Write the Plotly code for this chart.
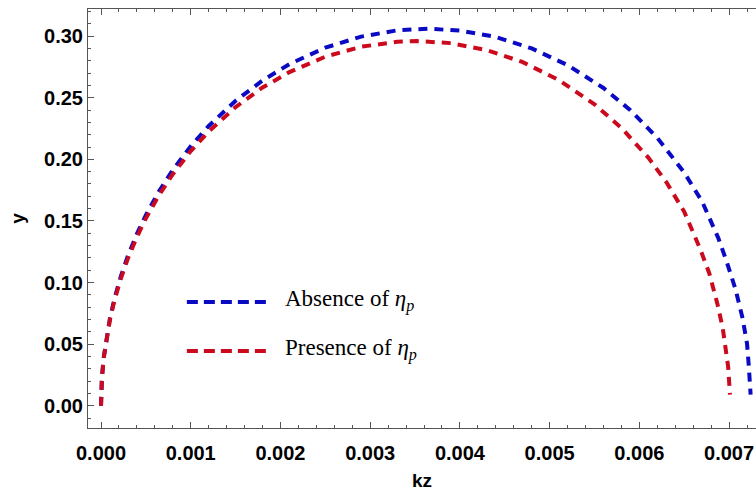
import plotly.graph_objects as go

# Data
kz_absence = [0, 0.00001, 0.00003, 0.00006, 0.0001, 0.00015, 0.00022, 0.0003, 0.0004, 0.0005,
              0.00065, 0.0008, 0.001, 0.0012, 0.0015, 0.0018, 0.0021, 0.0025, 0.0029, 0.0033,
              0.00364, 0.0040, 0.0044, 0.0048, 0.0052, 0.0056, 0.0059, 0.0062, 0.0065, 0.0067,
              0.00688, 0.00697, 0.00707, 0.00715, 0.0072, 0.00722, 0.00724]
y_absence = [0, 0.0227, 0.0392, 0.0553, 0.0712, 0.0869, 0.1048, 0.1217, 0.1395, 0.1548,
             0.1745, 0.1914, 0.2107, 0.2271, 0.2475, 0.2640, 0.2773, 0.2906, 0.2996, 0.3047,
             0.3060, 0.3045, 0.2993, 0.2900, 0.2765, 0.2579, 0.2399, 0.2175, 0.1893, 0.1657,
             0.1361, 0.1177, 0.0950, 0.0712, 0.0505, 0.0320, 0.009]

kz_presence = [0, 0.00001, 0.00003, 0.00006, 0.0001, 0.00015, 0.00022, 0.0003, 0.0004, 0.0005,
               0.00065, 0.0008, 0.001, 0.0012, 0.0015, 0.0018, 0.0021, 0.0025, 0.0029, 0.0033,
               0.00352, 0.0039, 0.0043, 0.0047, 0.0051, 0.0055, 0.0058, 0.0061, 0.0063, 0.0065,
               0.00668, 0.00678, 0.00687, 0.00693, 0.00697, 0.00699, 0.00701]
y_presence = [0, 0.0223, 0.0386, 0.0544, 0.0701, 0.0855, 0.1030, 0.1196, 0.1370, 0.1521,
              0.1714, 0.1879, 0.2067, 0.2226, 0.2424, 0.2583, 0.2708, 0.2833, 0.2914, 0.2954,
              0.2960, 0.2943, 0.2886, 0.2789, 0.2645, 0.2447, 0.2255, 0.2014, 0.1816, 0.1575,
              0.1269, 0.1074, 0.0827, 0.0628, 0.0445, 0.0315, 0.009]

series_names = ["Absence of <i>η</i><sub><i>p</i></sub>", "Presence of <i>η</i><sub><i>p</i></sub>"]
series_colors = ["#0a0ac4", "#cc0a1e"]

AXIS_COLOR = "#555555"
tick_font = dict(family="Liberation Sans, Arial, sans-serif", size=20, color="black", weight="bold")
title_font = dict(family="Liberation Sans, Arial, sans-serif", size=19, color="black", weight="bold")

fig = go.Figure()
fig.add_trace(go.Scatter(x=kz_absence, y=y_absence, mode="lines", name=series_names[0],
                         line=dict(color=series_colors[0], width=4, dash="9px,7px"),
                         showlegend=False))
fig.add_trace(go.Scatter(x=kz_presence, y=y_presence, mode="lines", name=series_names[1],
                         line=dict(color=series_colors[1], width=4, dash="9px,7px"),
                         showlegend=False))

# Custom legend (long dashed samples + serif labels)
legend_rows = [0.3007, 0.1838]
for name, color, yp in zip(series_names, series_colors, legend_rows):
    fig.add_shape(type="line", xref="paper", yref="paper", x0=0.148, x1=0.268, y0=yp, y1=yp,
                  line=dict(color=color, width=4, dash="11px,6px"))
    fig.add_annotation(xref="paper", yref="paper", x=0.292, y=yp + 0.004, text=name,
                       showarrow=False, xanchor="left", yanchor="middle",
                       font=dict(family="Liberation Serif, Times New Roman, serif", size=23,
                                 color="black"))

fig.update_xaxes(range=[-0.000145, 0.0073], showline=True, linecolor=AXIS_COLOR, linewidth=1,
                 mirror="ticks", ticks="inside", ticklen=6, tickcolor=AXIS_COLOR, tickwidth=1,
                 tick0=0, dtick=0.001, tickformat=".3f", tickfont=tick_font,
                 ticklabelstandoff=7,
                 minor=dict(dtick=0.0002, ticks="inside", ticklen=3, tickcolor=AXIS_COLOR),
                 showgrid=False, zeroline=False,
                 title=dict(text="kz", font=title_font, standoff=10))
fig.update_yaxes(range=[-0.018, 0.322], showline=True, linecolor=AXIS_COLOR, linewidth=1,
                 mirror=False, ticks="inside", ticklen=6, tickcolor=AXIS_COLOR, tickwidth=1,
                 tick0=0, dtick=0.05, tickformat=".2f", tickfont=tick_font,
                 minor=dict(dtick=0.01, ticks="inside", ticklen=3, tickcolor=AXIS_COLOR),
                 showgrid=False, zeroline=False,
                 title=dict(text="y", font=title_font, standoff=14))

fig.update_layout(width=756, height=491, autosize=False,
                  margin=dict(l=88, r=0, t=9, b=63),
                  paper_bgcolor="white", plot_bgcolor="white")

fig.write_html("out.html")
